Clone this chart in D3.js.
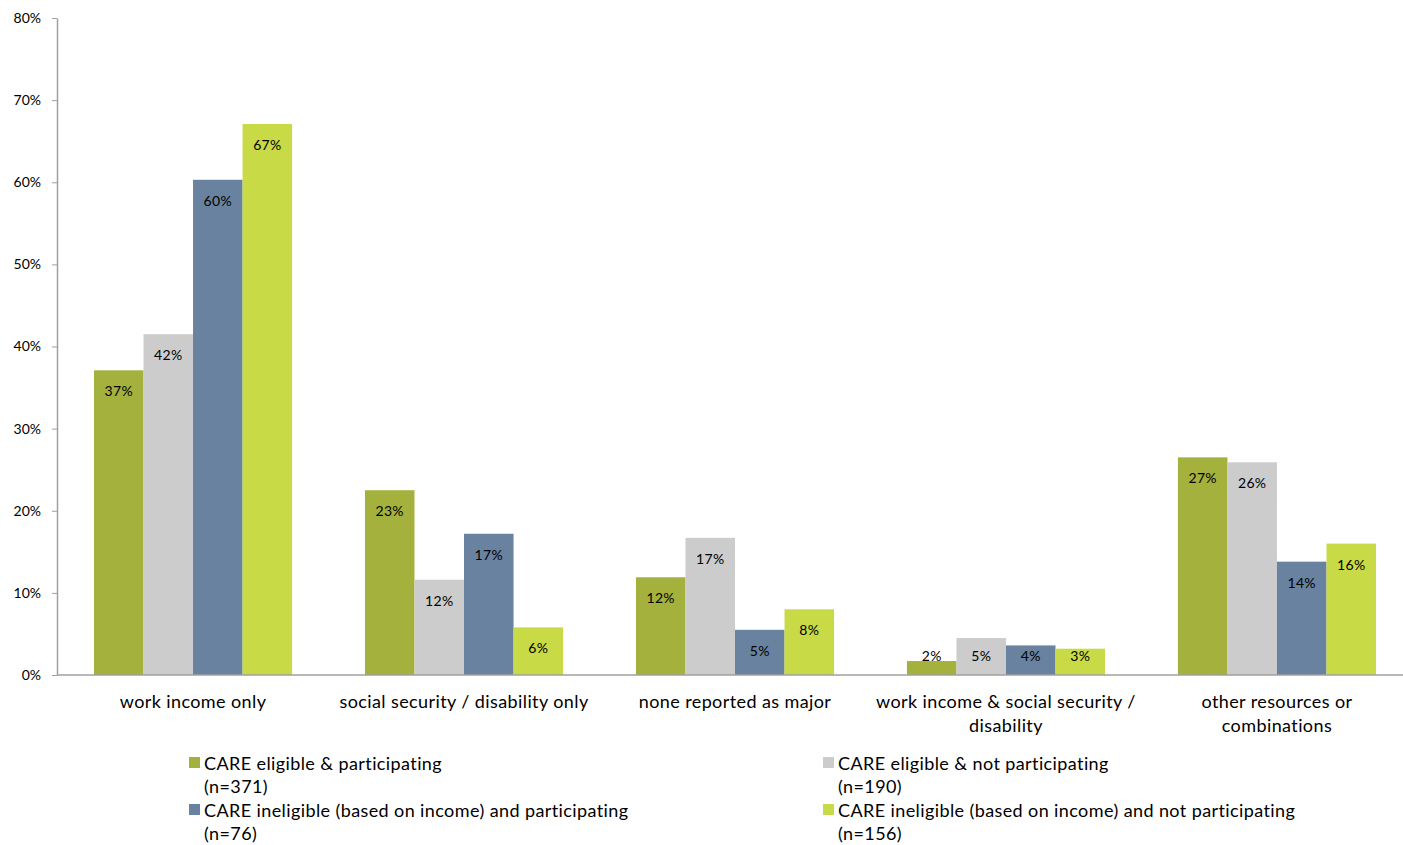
<!DOCTYPE html>
<html><head><meta charset="utf-8">
<script src="https://cdn.jsdelivr.net/npm/d3@7/dist/d3.min.js"></script>
<style>body{margin:0;background:#fff}svg{display:block}text{font-family:"Lato","Open Sans",sans-serif;fill:#000}</style>
</head><body><svg id="c" width="1403" height="845"></svg>
<script>
const categories = [
  ["work income only"],
  ["social security / disability only"],
  ["none reported as major"],
  ["work income & social security /", "disability"],
  ["other resources or", "combinations"]
];
const seriesNames = [
  ["CARE eligible & participating", "(n=371)"],
  ["CARE eligible & not participating", "(n=190)"],
  ["CARE ineligible (based on income) and participating", "(n=76)"],
  ["CARE ineligible (based on income) and not participating", "(n=156)"]
];
const eligPart    = [37.1, 22.5, 11.9, 1.7, 26.5];
const eligNotPart = [41.5, 11.6, 16.7, 4.5, 25.9];
const inelPart    = [60.3, 17.2, 5.5, 3.6, 13.8];
const inelNotPart = [67.1, 5.8, 8.0, 3.2, 16.0];
const valueLabels = [
  ["37%", "23%", "12%", "2%", "27%"],
  ["42%", "12%", "17%", "5%", "26%"],
  ["60%", "17%", "5%", "4%", "14%"],
  ["67%", "6%", "8%", "3%", "16%"]
];
const yTicks = [0, 10, 20, 30, 40, 50, 60, 70, 80];
const colors = ["#a4b13c", "#cccccc", "#68829f", "#c8db46"];

const series = [eligPart, eligNotPart, inelPart, inelNotPart];
const svg = d3.select("#c");
const m = {left: 57, right: 1403, top: 18, bottom: 675};
const x0 = d3.scaleBand().domain(d3.range(categories.length)).range([m.left, 1413]).paddingInner(0.269).paddingOuter(0.1365);
const x1 = d3.scaleBand().domain(d3.range(series.length)).range([0, x0.bandwidth()]);
const y = d3.scaleLinear().domain([0, 80]).range([m.bottom, m.top]);

// bars
series.forEach((vals, si) => {
  svg.append("g").selectAll("rect").data(vals).join("rect")
    .attr("x", (d, i) => x0(i) + x1(si))
    .attr("y", d => y(d))
    .attr("width", x1.bandwidth())
    .attr("height", d => y(0) - y(d))
    .attr("fill", colors[si]);
  svg.append("g").selectAll("text").data(vals).join("text")
    .attr("x", (d, i) => x0(i) + x1(si) + x1.bandwidth() / 2)
    .attr("y", d => Math.min(y(d) + 26, 661))
    .attr("text-anchor", "middle")
    .attr("font-size", 14)
    .attr("letter-spacing", 0.3)
    .text((d, i) => valueLabels[si][i]);
});

// y axis
const yAxis = d3.axisLeft(y).tickValues(yTicks).tickFormat(d => d + "%").tickSize(5).tickSizeOuter(0);
const ya = svg.append("g").attr("transform", `translate(${m.left},0)`).call(yAxis);
ya.select(".domain").attr("stroke", "#a0a0a0").attr("stroke-width", 1.5);
ya.selectAll(".tick line").attr("stroke", "#a0a0a0");
ya.selectAll(".tick text").attr("font-size", 14).attr("x", -16).attr("font-family", "Lato, 'Open Sans', sans-serif").attr("fill", "#000");

// x axis line
svg.append("line").attr("x1", m.left).attr("x2", m.right).attr("y1", y(0)).attr("y2", y(0))
  .attr("stroke", "#a0a0a0").attr("stroke-width", 1.5);

// category labels
categories.forEach((lines, i) => {
  const t = svg.append("text").attr("text-anchor", "middle").attr("font-size", 18).attr("letter-spacing", 0.4);
  lines.forEach((ln, k) => t.append("tspan").attr("x", x0(i) + x0.bandwidth() / 2).attr("y", 708 + k * 24).text(ln));
});

// legend
const legPos = [[189, 757], [823, 757], [189, 804], [823, 804]];
seriesNames.forEach((lines, si) => {
  const [lx, ly] = legPos[si];
  svg.append("rect").attr("x", lx).attr("y", ly).attr("width", 11).attr("height", 11).attr("fill", colors[si]);
  const t = svg.append("text").attr("font-size", 18).attr("letter-spacing", 0.4);
  lines.forEach((ln, k) => t.append("tspan").attr("x", lx + 15).attr("y", ly + 13 + k * 23).text(ln));
});
</script></body></html>
